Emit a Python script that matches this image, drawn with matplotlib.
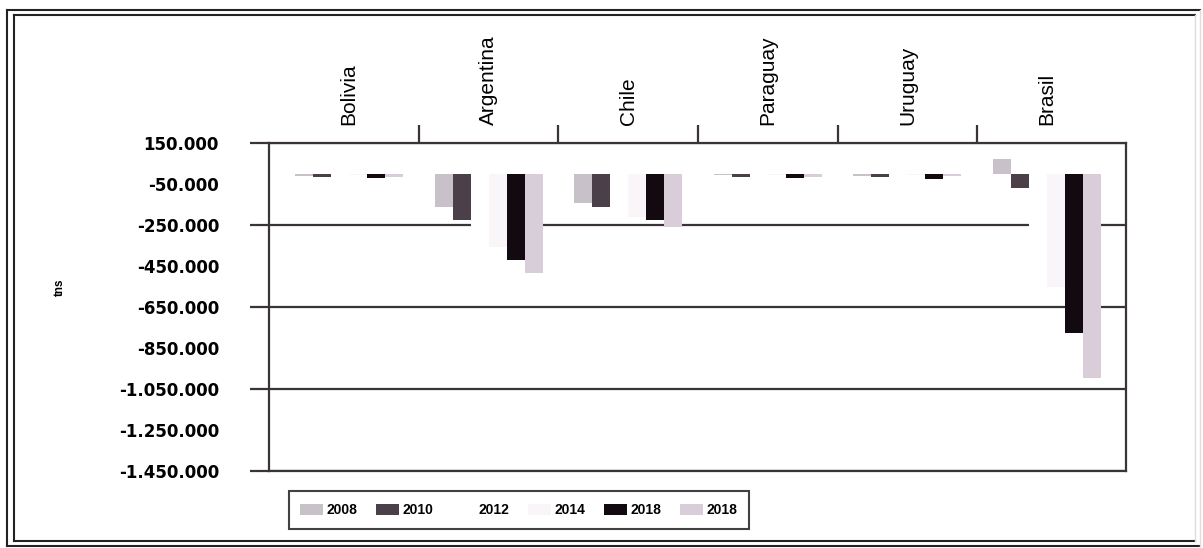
import matplotlib
matplotlib.use("Agg")
import matplotlib.pyplot as plt
from matplotlib.lines import Line2D
import numpy as np

plt.rcParams['font.family'] = ['Liberation Sans', 'DejaVu Sans']

countries = ["Bolivia", "Argentina", "Chile", "Paraguay", "Uruguay", "Brasil"]
years = ["2008", "2010", "2012", "2014", "2018", "2018"]
colors = ["#c9c1ca", "#4b3f49", "#ffffff", "#faf5f8", "#120a10", "#d9cdd9"]

# tonnes, one list per year (same order as countries)
v2008 = [-12000, -162000, -143000, -8000, -10000, 70000]
v2010 = [-15000, -226000, -162000, -14000, -16000, -70000]
v2012 = [-8000, -265000, -201000, -4000, -5000, -300000]
v2014 = [-6000, -357000, -211000, -6000, -6000, -552000]
v2016 = [-22000, -421000, -226000, -20000, -24000, -777000]
v2018 = [-14000, -484000, -260000, -16000, -12000, -996000]
series = [v2008, v2010, v2012, v2014, v2016, v2018]

ymin, ymax = -1450000, 150000
grid_ticks = list(range(ymin, ymax + 1, 400000))
label_ticks = list(range(ymin + 200000, ymax, 400000))

def fmt(v):
    return f"{v:,}".replace(",", ".")

fig = plt.figure(figsize=(12.03, 5.48), dpi=100)
ax = fig.add_axes([269/1203, 1 - 471/548, (1126 - 269)/1203, (471 - 143)/548])

x = np.arange(len(countries))
w = 0.129
handles = []
for i, vals in enumerate(series):
    b = ax.bar(x + (i - 2.5) * w, vals, width=w, color=colors[i],
               edgecolor="none", zorder=3, label=years[i])
    handles.append(b)

ax.set_xlim(-0.573, 5.566)
ax.set_ylim(ymin, ymax)

# gridlines every 400.000, labels every 200.000
line_c = "#3a3438"
for g in grid_ticks:
    ax.axhline(g, color=line_c, lw=1.6, zorder=1)
ax.set_yticks(grid_ticks)
ax.set_yticklabels([fmt(v) for v in grid_ticks])
ax.set_yticks(label_ticks, minor=True)
ax.set_yticklabels([fmt(v) for v in label_ticks], minor=True)
ax.tick_params(axis="y", which="major", length=13.7, width=1.6, color=line_c,
               pad=22.3)
ax.tick_params(axis="y", which="minor", length=0, pad=36)
for lab in ax.get_yticklabels(which="both"):
    lab.set_fontweight("bold")
    lab.set_fontfamily("DejaVu Sans")
    lab.set_fontsize(12)

# country names on top, separators between groups
ax.xaxis.tick_top()
ax.set_xticks(x)
ax.set_xticklabels(countries, rotation=90, fontsize=15)
ax.set_xticks(x[:-1] + 0.5, minor=True)
ax.tick_params(axis="x", which="major", length=0, pad=13)
ax.tick_params(axis="x", which="minor", length=13, width=1.6, color=line_c,
               top=True, bottom=False)

for s in ax.spines.values():
    s.set_color(line_c)
    s.set_linewidth(1.6)

fig.text(60/1203, 1 - 287/548, "tns", rotation=90, fontsize=8.5,
         fontweight="bold", ha="center", va="center")

leg = fig.legend(handles=handles, labels=years, ncol=6, loc="center",
                 bbox_to_anchor=(519/1203, 1 - 510/548), frameon=True,
                 fancybox=False, handlelength=1.6, handleheight=0.85,
                 handletextpad=0.3, columnspacing=1.35, borderpad=0.85,
                 borderaxespad=0, prop={"weight": "bold", "size": 10})
leg.get_frame().set_edgecolor("#111111")
leg.get_frame().set_linewidth(1.5)

# double frame around the whole chart
def fline(x0, y0, x1, y1, c="#222222", lw=1.5):
    fig.add_artist(Line2D([x0/1203, x1/1203], [1 - y0/548, 1 - y1/548],
                          color=c, lw=lw, transform=fig.transFigure))

for (l, t, r, b) in [(7, 10, 1200, 546), (14, 15, 1195, 541)]:
    fline(l, t, r, t)
    fline(l, b, r, b)
    fline(l, t, l, b)
    fline(r, t, r, b, c="#dddddd", lw=1.0)

fig.savefig("out.png", dpi=100, facecolor="white")
